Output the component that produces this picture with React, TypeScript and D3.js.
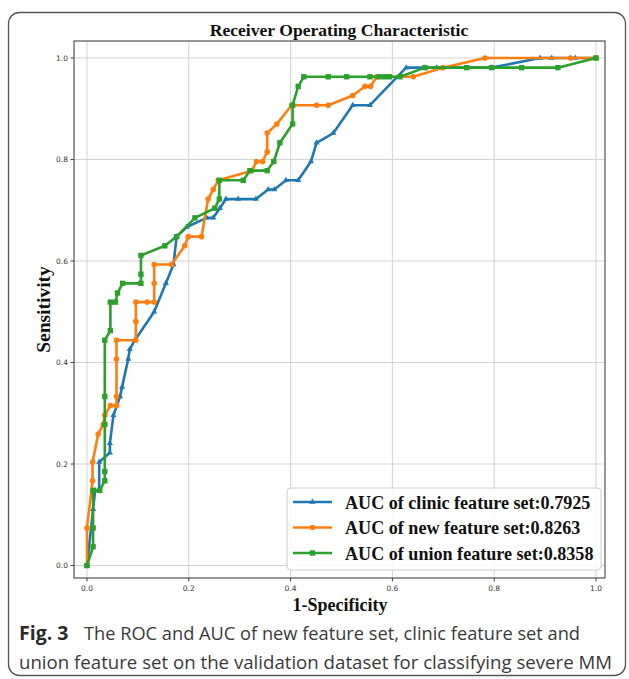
import React from "react";
import * as d3 from "d3";

const xTicks = [0, 0.2, 0.4, 0.6, 0.8, 1.0];
const yTicks = [0, 0.2, 0.4, 0.6, 0.8, 1.0];

const clinicFpr = [0, 0.012, 0.016, 0.024, 0.024, 0.045, 0.045, 0.052, 0.065, 0.069, 0.081, 0.084, 0.094, 0.132, 0.155, 0.17, 0.176, 0.196, 0.235, 0.248, 0.261, 0.273, 0.297, 0.332, 0.356, 0.368, 0.391, 0.415, 0.44, 0.451, 0.484, 0.522, 0.556, 0.627, 0.664, 0.687, 0.795, 0.89, 0.913, 0.959, 1];
const clinicTpr = [0, 0.111, 0.148, 0.148, 0.204, 0.222, 0.241, 0.296, 0.333, 0.352, 0.407, 0.426, 0.444, 0.5, 0.556, 0.593, 0.648, 0.667, 0.685, 0.685, 0.704, 0.722, 0.722, 0.722, 0.741, 0.741, 0.759, 0.759, 0.796, 0.833, 0.852, 0.907, 0.907, 0.981, 0.981, 0.981, 0.981, 1, 1, 1, 1];

const newFpr = [0, 0, 0.011, 0.011, 0.022, 0.032, 0.035, 0.046, 0.058, 0.058, 0.058, 0.058, 0.096, 0.096, 0.096, 0.118, 0.132, 0.132, 0.132, 0.166, 0.192, 0.199, 0.225, 0.238, 0.248, 0.258, 0.324, 0.333, 0.345, 0.354, 0.354, 0.373, 0.402, 0.451, 0.474, 0.522, 0.546, 0.557, 0.569, 0.641, 0.699, 0.782, 0.95, 1];
const newTpr = [0, 0.074, 0.167, 0.204, 0.259, 0.278, 0.296, 0.315, 0.315, 0.333, 0.407, 0.444, 0.444, 0.481, 0.519, 0.519, 0.519, 0.556, 0.593, 0.593, 0.63, 0.648, 0.648, 0.722, 0.741, 0.759, 0.778, 0.796, 0.796, 0.815, 0.852, 0.87, 0.907, 0.907, 0.907, 0.926, 0.944, 0.944, 0.963, 0.963, 0.981, 1, 1, 1];

const unionFpr = [0, 0.012, 0.012, 0.012, 0.025, 0.035, 0.035, 0.035, 0.035, 0.035, 0.046, 0.046, 0.056, 0.06, 0.07, 0.106, 0.106, 0.106, 0.153, 0.176, 0.212, 0.251, 0.26, 0.26, 0.307, 0.32, 0.354, 0.367, 0.379, 0.404, 0.404, 0.415, 0.426, 0.474, 0.51, 0.556, 0.574, 0.585, 0.594, 0.615, 0.664, 0.746, 0.795, 0.854, 0.925, 1];
const unionTpr = [0, 0.037, 0.074, 0.148, 0.148, 0.167, 0.185, 0.278, 0.333, 0.444, 0.463, 0.519, 0.519, 0.537, 0.556, 0.556, 0.574, 0.611, 0.63, 0.648, 0.685, 0.704, 0.722, 0.759, 0.759, 0.778, 0.778, 0.796, 0.833, 0.87, 0.907, 0.944, 0.963, 0.963, 0.963, 0.963, 0.963, 0.963, 0.963, 0.963, 0.981, 0.981, 0.981, 0.981, 0.981, 1];

const seriesNames = ["AUC of clinic feature set:0.7925", "AUC of new feature set:0.8263", "AUC of union feature set:0.8358"];
const seriesColors = ["#1f77b4", "#ff7f0e", "#2ca02c"];
const seriesMarkers = ["triangle", "circle", "square"];

const title = "Receiver Operating Characteristic";
const xLabel = "1-Specificity";
const yLabel = "Sensitivity";
const captionBold = "Fig. 3";
const captionLine1 = "The ROC and AUC of new feature set, clinic feature set and";
const captionLine2 = "union feature set on the validation dataset for classifying severe MM";

const W = 629;
const H = 679;
const frameL = 74, frameR = 605, frameT = 41, frameB = 578;
const x = d3.scaleLinear().domain([-0.0255, 1.0177]).range([frameL, frameR]);
const y = d3.scaleLinear().domain([-0.0246, 1.0335]).range([frameB, frameT]);

const serif = "'Liberation Serif', 'Times New Roman', serif";
const sans = "'DejaVu Sans', sans-serif";
const capFont = "'Open Sans', sans-serif";

function Marker({ kind, cx, cy, color }: { kind: string; cx: number; cy: number; color: string }) {
  if (kind === "circle") return <circle cx={cx} cy={cy} r={2.8} fill={color} />;
  if (kind === "square") return <rect x={cx - 2.7} y={cy - 2.7} width={5.4} height={5.4} fill={color} />;
  const sym = d3.symbol().type(d3.symbolTriangle).size(16)();
  return <path d={sym || ""} transform={`translate(${cx},${cy})`} fill={color} />;
}

export default function App() {
  const series = [
    { fpr: clinicFpr, tpr: clinicTpr },
    { fpr: newFpr, tpr: newTpr },
    { fpr: unionFpr, tpr: unionTpr },
  ];
  const line = d3.line<[number, number]>().x((d) => x(d[0])).y((d) => y(d[1]));
  return (
    <svg width={W} height={H} style={{ position: "absolute", left: 0, top: 0 }}>
      <rect x={0} y={0} width={W} height={H} fill="#fff" />
      <rect x={8.5} y={12.5} width={617} height={663} rx={11} fill="none" stroke="#555" strokeWidth={1.3} />
      <defs>
        <clipPath id="plotclip">
          <rect x={frameL} y={frameT} width={frameR - frameL} height={frameB - frameT} />
        </clipPath>
      </defs>
      {xTicks.map((t) => (
        <line key={"gx" + t} x1={x(t)} x2={x(t)} y1={frameT} y2={frameB} stroke="#d3d3d3" strokeWidth={1} />
      ))}
      {yTicks.map((t) => (
        <line key={"gy" + t} x1={frameL} x2={frameR} y1={y(t)} y2={y(t)} stroke="#d3d3d3" strokeWidth={1} />
      ))}
      <g clipPath="url(#plotclip)">
        {series.map((s, i) => {
          const pts: [number, number][] = s.fpr.map((f, j) => [f, s.tpr[j]]);
          return (
            <g key={i}>
              <path d={line(pts) || ""} fill="none" stroke={seriesColors[i]} strokeWidth={2.6} strokeLinejoin="round" />
              {pts.map((p, j) => (
                <Marker key={j} kind={seriesMarkers[i]} cx={x(p[0])} cy={y(p[1])} color={seriesColors[i]} />
              ))}
            </g>
          );
        })}
      </g>
      <rect x={frameL} y={frameT} width={frameR - frameL} height={frameB - frameT} fill="none" stroke="#444" strokeWidth={1.1} />
      {xTicks.map((t) => (
        <g key={"tx" + t}>
          <line x1={x(t)} x2={x(t)} y1={frameB} y2={frameB + 3.5} stroke="#444" />
          <text x={x(t)} y={frameB + 13} textAnchor="middle" fontFamily={sans} fontSize={7.5} fill="#333">
            {t.toFixed(1)}
          </text>
        </g>
      ))}
      {yTicks.map((t) => (
        <g key={"ty" + t}>
          <line x1={frameL - 3.5} x2={frameL} y1={y(t)} y2={y(t)} stroke="#444" />
          <text x={frameL - 6} y={y(t) + 2.7} textAnchor="end" fontFamily={sans} fontSize={7.5} fill="#333">
            {t.toFixed(1)}
          </text>
        </g>
      ))}
      <text x={339} y={36} textAnchor="middle" fontFamily={serif} fontWeight="bold" fontSize={17.6} fill="#111">
        {title}
      </text>
      <text x={340} y={611} textAnchor="middle" fontFamily={serif} fontWeight="bold" fontSize={18} fill="#111">
        {xLabel}
      </text>
      <text transform={`translate(50,${(frameT + frameB) / 2}) rotate(-90)`} textAnchor="middle" fontFamily={serif} fontWeight="bold" fontSize={19.5} fill="#111">
        {yLabel}
      </text>
      <rect x={287} y={488} width={314} height={82} rx={4} fill="#fff" fillOpacity={0.85} stroke="#ccc" strokeWidth={1} />
      {seriesNames.map((n, i) => {
        const ly = 502 + i * 25.5;
        return (
          <g key={"lg" + i}>
            <line x1={293} x2={332} y1={ly} y2={ly} stroke={seriesColors[i]} strokeWidth={2.6} />
            <Marker kind={seriesMarkers[i]} cx={312.5} cy={ly} color={seriesColors[i]} />
            <text x={345} y={ly + 6.5} fontFamily={serif} fontWeight="bold" fontSize={18.1} fill="#111">
              {n}
            </text>
          </g>
        );
      })}
      <text x={19} y={640} fontFamily={capFont} fontWeight="bold" fontSize={19.5} fill="#2b2b2b">
        {captionBold}
      </text>
      <text x={84} y={640} fontFamily={capFont} fontSize={18.5} fill="#3a3a3a" textLength={496} lengthAdjust="spacingAndGlyphs">
        {captionLine1}
      </text>
      <text x={19} y={669} fontFamily={capFont} fontSize={18.5} fill="#3a3a3a" textLength={593} lengthAdjust="spacingAndGlyphs">
        {captionLine2}
      </text>
    </svg>
  );
}
